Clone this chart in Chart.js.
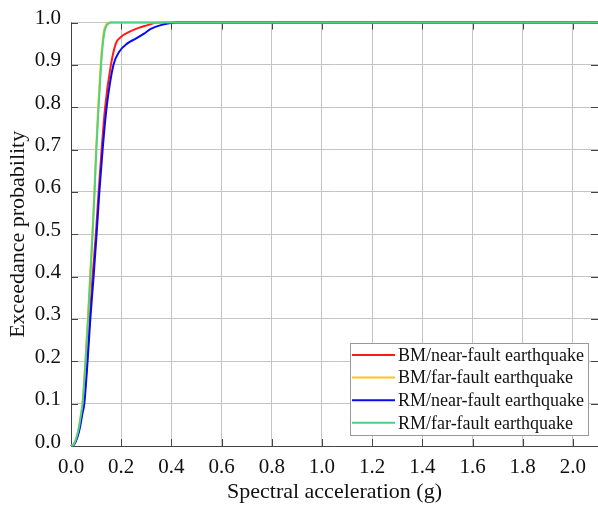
<!DOCTYPE html>
<html>
<head>
<meta charset="utf-8">
<script src="https://cdn.jsdelivr.net/npm/chart.js@4.4.1/dist/chart.umd.min.js"></script>
<style>
  html, body { margin: 0; padding: 0; background: #fff; }
  #wrap { width: 598px; height: 510px; }
</style>
</head>
<body>
<div id="wrap"><canvas id="c" width="598" height="510"></canvas></div>
<script>
// exceedance probability levels and spectral acceleration (g)
const bmNearX = [0, 0.013, 0.024, 0.034, 0.043, 0.05, 0.064, 0.074, 0.086, 0.099, 0.11, 0.122, 0.136, 0.159, 0.179, 0.199, 0.232, 0.272, 0.305, 0.331, 0.36, 2.1];
const bmNearY = [0, 0.005, 0.02, 0.045, 0.075, 0.1, 0.2, 0.3, 0.4, 0.5, 0.6, 0.7, 0.8, 0.9, 0.951, 0.966, 0.978, 0.988, 0.994, 0.999, 1, 1];

const bmFarX = [0, 0.012, 0.022, 0.032, 0.04, 0.046, 0.057, 0.067, 0.076, 0.085, 0.093, 0.1, 0.108, 0.118, 0.125, 0.131, 0.138, 0.146, 0.154, 2.1];
const bmFarY = [0, 0.005, 0.02, 0.045, 0.075, 0.1, 0.2, 0.3, 0.4, 0.5, 0.6, 0.7, 0.8, 0.9, 0.95, 0.98, 0.993, 0.999, 1, 1];

const rmNearX = [0, 0.014, 0.025, 0.036, 0.045, 0.053, 0.066, 0.077, 0.09, 0.102, 0.113, 0.126, 0.142, 0.169, 0.192, 0.225, 0.258, 0.291, 0.318, 0.358, 0.418, 2.1];
const rmNearY = [0, 0.005, 0.02, 0.045, 0.075, 0.1, 0.2, 0.3, 0.4, 0.5, 0.6, 0.7, 0.8, 0.9, 0.931, 0.951, 0.962, 0.974, 0.985, 0.994, 1, 1];

const rmFarX = [0, 0.012, 0.022, 0.032, 0.04, 0.046, 0.058, 0.068, 0.077, 0.086, 0.094, 0.101, 0.11, 0.12, 0.127, 0.134, 0.142, 0.152, 0.16, 2.1];
const rmFarY = [0, 0.005, 0.02, 0.045, 0.075, 0.1, 0.2, 0.3, 0.4, 0.5, 0.6, 0.7, 0.8, 0.9, 0.95, 0.98, 0.993, 0.999, 1, 1];

const xTickValues = [0, 0.2, 0.4, 0.6, 0.8, 1.0, 1.2, 1.4, 1.6, 1.8, 2.0];

const seriesLabels = ["BM/near-fault earthquake", "BM/far-fault earthquake", "RM/near-fault earthquake", "RM/far-fault earthquake"];
const seriesColors = ["#ff1a1a", "#ffc21a", "#0a0af0", "#4fd184"];

const FONT = "'Liberation Serif', 'Times New Roman', serif";

const pts = (xs, ys) => xs.map((x, i) => ({ x: x, y: ys[i] }));

// left/bottom axis lines + inward tick marks on all sides, drawn under the curves
const framePlugin = {
    id: "frame",
    beforeDatasetsDraw(chart) {
        const { ctx, chartArea: a, scales } = chart;
        const len = 7;
        ctx.save();
        ctx.strokeStyle = "#444";
        ctx.lineWidth = 1;
        ctx.beginPath();
        ctx.moveTo(a.left + 0.5, a.top);
        ctx.lineTo(a.left + 0.5, a.bottom + 0.5);
        ctx.lineTo(a.right, a.bottom + 0.5);
        scales.x.ticks.forEach(t => {
            const px = Math.round(scales.x.getPixelForValue(t.value)) + 0.5;
            ctx.moveTo(px, a.bottom); ctx.lineTo(px, a.bottom - len);
            ctx.moveTo(px, a.top); ctx.lineTo(px, a.top + len);
        });
        scales.y.ticks.forEach(t => {
            const py = Math.round(scales.y.getPixelForValue(t.value)) + 0.5;
            ctx.moveTo(a.left, py); ctx.lineTo(a.left + len, py);
            ctx.moveTo(a.right, py); ctx.lineTo(a.right - len, py);
        });
        ctx.stroke();
        ctx.restore();
    }
};

// boxed legend in the lower right of the plot
const legendBoxPlugin = {
    id: "legendBox",
    afterDraw(chart) {
        const ctx = chart.ctx;
        const bx = 350, by = 343, bw = 238, bh = 92;
        ctx.save();
        ctx.fillStyle = "#fff";
        ctx.fillRect(bx, by, bw, bh);
        ctx.strokeStyle = "#999";
        ctx.lineWidth = 1;
        ctx.strokeRect(bx + 0.5, by + 0.5, bw, bh);
        ctx.font = "18px " + FONT;
        ctx.textBaseline = "middle";
        ctx.textAlign = "left";
        seriesLabels.forEach((lab, i) => {
            const y = 355 + i * 22.6;
            ctx.strokeStyle = seriesColors[i];
            ctx.lineWidth = 2;
            ctx.beginPath();
            ctx.moveTo(352, y); ctx.lineTo(395, y);
            ctx.stroke();
            ctx.fillStyle = "#111";
            ctx.fillText(lab, 398, y + 1);
        });
        ctx.restore();
    }
};

const mk = (i, xs, ys, order) => ({
    label: seriesLabels[i],
    data: pts(xs, ys),
    borderColor: seriesColors[i],
    backgroundColor: seriesColors[i],
    borderWidth: 2,
    pointRadius: 0,
    fill: false,
    clip: false,
    cubicInterpolationMode: "monotone",
    order: order
});

new Chart(document.getElementById("c").getContext("2d"), {
    type: "line",
    data: {
        datasets: [
            mk(0, bmNearX, bmNearY, 3),
            mk(1, bmFarX, bmFarY, 2),
            mk(2, rmNearX, rmNearY, 1),
            mk(3, rmFarX, rmFarY, 0)
        ]
    },
    options: {
        responsive: false,
        animation: false,
        layout: { padding: { top: 20, right: 0, left: 0, bottom: 0 } },
        plugins: {
            legend: { display: false },
            tooltip: { enabled: false }
        },
        scales: {
            x: {
                type: "linear",
                min: 0,
                max: 2.1,
                afterBuildTicks(scale) { scale.ticks = xTickValues.map(v => ({ value: v })); },
                afterFit(scale) { scale.height = 64; },
                ticks: {
                    padding: 9,
                    color: "#111",
                    font: { family: FONT, size: 21 },
                    maxRotation: 0,
                    autoSkip: false,
                    callback: v => Number(v).toFixed(1)
                },
                grid: { color: "#c4c4c4", lineWidth: 1, drawTicks: false },
                border: { display: false },
                title: {
                    display: true,
                    text: "Spectral acceleration (g)",
                    color: "#111",
                    font: { family: FONT, size: 22 },
                    padding: { top: 0, bottom: 5 }
                }
            },
            y: {
                min: 0,
                max: 1,
                afterFit(scale) { scale.width = 71; },
                ticks: {
                    stepSize: 0.1,
                    padding: 10,
                    labelOffset: -4,
                    color: "#111",
                    font: { family: FONT, size: 21 },
                    callback: v => Number(v).toFixed(1)
                },
                grid: { color: "#c4c4c4", lineWidth: 1, drawTicks: false },
                border: { display: false },
                title: {
                    display: true,
                    text: "Exceedance probability",
                    color: "#111",
                    font: { family: FONT, size: 22 },
                    padding: { top: 5, bottom: 0 }
                }
            }
        }
    },
    plugins: [framePlugin, legendBoxPlugin]
});
</script>
</body>
</html>
